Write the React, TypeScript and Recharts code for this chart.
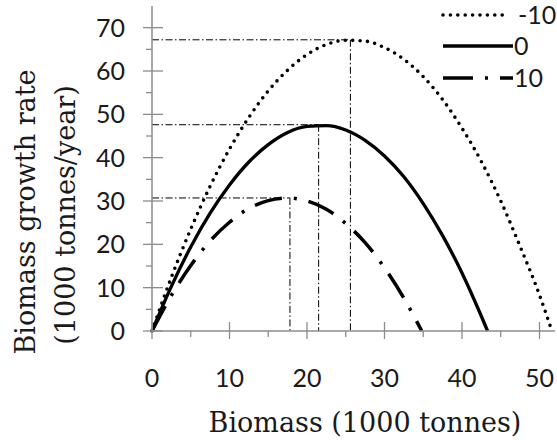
import { Legend, Line, LineChart, ReferenceLine, XAxis, YAxis } from 'recharts'

// biomass (1000 tonnes) and growth rate (1000 tonnes/year) for each series
const biomassNeg10 = [0, 2.5, 5, 7.5, 10, 12.5, 15, 17.5, 20, 22.5, 25, 27.5, 30, 32.5, 35, 37.5, 40, 42.5, 45, 47.5, 50, 51.6]
const growthNeg10 = [0, 12.4, 23.5, 33.4, 42.0, 49.3, 55.4, 60.2, 63.8, 66.1, 67.1, 66.9, 65.4, 62.7, 58.7, 53.4, 46.8, 39.1, 30.0, 19.5, 8.3, 0]

const biomassZero = [0, 2.5, 5, 7.5, 10, 12.5, 15, 17.5, 20, 22.5, 25, 27.5, 30, 32.5, 35, 37.5, 40, 42.5, 43.3]
const growthZero = [0, 10.3, 19.4, 27.2, 33.7, 39.0, 43.0, 45.8, 47.2, 47.4, 46.4, 44.0, 40.4, 35.6, 29.4, 22.0, 13.4, 3.4, 0]

const biomass10 = [0, 2.5, 5, 7.5, 10, 12.5, 15, 17.5, 20, 22.5, 25, 27.5, 30, 32.5, 34.8]
const growth10 = [0, 8.2, 15.1, 20.8, 25.1, 28.3, 30.1, 30.7, 30.0, 28.1, 24.8, 20.4, 14.6, 7.6, 0]

// maximum growth points (marked with the thin dash-dot guides)
const peakBiomass = [25.6, 21.5, 17.8]
const peakGrowth = [67.2, 47.6, 30.7]

const seriesNames = ['-10', '0', '10']
const xTicks = [0, 5, 10, 15, 20, 25, 30, 35, 40, 45, 50]
const yTicks = [0, 5, 10, 15, 20, 25, 30, 35, 40, 45, 50, 55, 60, 65, 70]

const toPoints = (xs: number[], ys: number[]) => xs.map((x, i) => ({ x, y: ys[i] }))

const axisGray = '#8c8c8c'
const tickFont = 'Lato, "Open Sans", sans-serif'
const titleFont = '"DejaVu Serif", serif'

const lineStyles = [
  { strokeWidth: 3.6, strokeDasharray: '0 7.4', strokeLinecap: 'round' as const },
  { strokeWidth: 3.3 },
  { strokeWidth: 3.5, strokeDasharray: '28 12 3 12' },
]

function XTick(props: any) {
  const { x, y, payload } = props
  const major = payload.value % 10 === 0
  return (
    <g>
      <line
        x1={x}
        x2={x}
        y1={major ? y - 9 : y}
        y2={major ? y + 8 : y + 6}
        stroke={axisGray}
        strokeWidth={1.3}
      />
      {major && (
        <text x={x} y={y + 56} textAnchor="middle" fontFamily={tickFont} fontSize={25} fill="#1a1a1a">
          {payload.value}
        </text>
      )}
    </g>
  )
}

function YTick(props: any) {
  const { x, y, payload } = props
  const major = payload.value % 10 === 0
  return (
    <g>
      <line
        x1={major ? x - 9 : x - 6}
        x2={major ? x + 11 : x}
        y1={y}
        y2={y}
        stroke={axisGray}
        strokeWidth={1.3}
      />
      {major && (
        <text x={x - 27} y={y + 9} textAnchor="end" fontFamily={tickFont} fontSize={25} fill="#1a1a1a">
          {payload.value}
        </text>
      )}
    </g>
  )
}

function XTitle() {
  return (
    <text x={365} y={432} textAnchor="middle" fontFamily={titleFont} fontSize={27} fill="#1a1a1a">
      Biomass (1000 tonnes)
    </text>
  )
}

function YTitle() {
  return (
    <g fontFamily={titleFont} fontSize={27} fill="#1a1a1a" textAnchor="middle">
      <text x={35} y={212} transform="rotate(-90 35 212)">
        Biomass growth rate
      </text>
      <text x={75} y={215} transform="rotate(-90 75 215)">
        (1000 tonnes/year)
      </text>
    </g>
  )
}

function LegendBox() {
  const rows = [15, 46, 78]
  const ends = [67, 73, 73]
  const labelX = [78, 74, 74]
  return (
    <svg width={117} height={95} style={{ display: 'block' }}>
      {seriesNames.map((name, i) => (
        <g key={name}>
          <line
            x1={3}
            x2={ends[i]}
            y1={rows[i]}
            y2={rows[i]}
            stroke="#000"
            {...lineStyles[i]}
            strokeDasharray={i === 2 ? '30 12 3 12' : lineStyles[i].strokeDasharray}
          />
          <text
            x={labelX[i]}
            y={rows[i] + 9}
            fontFamily={tickFont}
            fontSize={25}
            fill="#1a1a1a"
          >
            {name}
          </text>
        </g>
      ))}
    </svg>
  )
}

export default function App() {
  const series = [
    toPoints(biomassNeg10, growthNeg10),
    toPoints(biomassZero, growthZero),
    toPoints(biomass10, growth10),
  ]
  const guide = { stroke: '#000', strokeWidth: 1, strokeDasharray: '7 2.5 1.5 2.5' }

  return (
    <div style={{ position: 'absolute', left: 0, top: 0 }}>
      <LineChart width={557} height={440} margin={{ top: 6, right: 2, bottom: 0, left: 0 }}>
        <XAxis
          type="number"
          dataKey="x"
          domain={[0, 52]}
          ticks={xTicks}
          interval={0}
          height={109}
          tickSize={0}
          tickMargin={0}
          tickLine={false}
          stroke={axisGray}
          strokeWidth={1.5}
          tick={<XTick />}
          label={<XTitle />}
        />
        <YAxis
          type="number"
          dataKey="y"
          domain={[0, 75]}
          ticks={yTicks}
          interval={0}
          width={152}
          tickSize={0}
          tickMargin={0}
          tickLine={false}
          stroke={axisGray}
          strokeWidth={1.5}
          tick={<YTick />}
          label={<YTitle />}
        />
        {peakBiomass.map((px, i) => (
          <ReferenceLine
            key={'h' + i}
            segment={[{ x: 0, y: peakGrowth[i] }, { x: px, y: peakGrowth[i] }]}
            {...guide}
          />
        ))}
        {peakBiomass.map((px, i) => (
          <ReferenceLine
            key={'v' + i}
            segment={[{ x: px, y: peakGrowth[i] }, { x: px, y: 0 }]}
            {...guide}
          />
        ))}
        {series.map((data, i) => (
          <Line
            key={seriesNames[i]}
            name={seriesNames[i]}
            data={data}
            dataKey="y"
            type="monotone"
            stroke="#000"
            {...lineStyles[i]}
            dot={false}
            activeDot={false}
            isAnimationActive={false}
          />
        ))}
        <Legend
          layout="vertical"
          align="center"
          verticalAlign="middle"
          content={<LegendBox />}
          wrapperStyle={{ left: 440, top: 0, width: 117, height: 95 }}
        />
      </LineChart>
    </div>
  )
}
